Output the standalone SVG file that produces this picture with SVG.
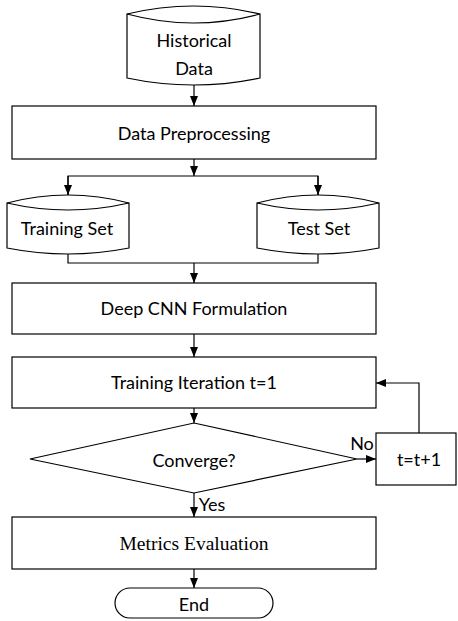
<svg xmlns="http://www.w3.org/2000/svg" width="458" height="621" viewBox="0 0 458 621">
<style>
.s{fill:#fff;stroke:#000;stroke-width:1.2}
.l{fill:none;stroke:#000;stroke-width:1.2}
.t{font-family:Lato,"Noto Sans",sans-serif;font-size:18px;fill:#000;text-anchor:middle}
.r{font-family:"Liberation Serif",serif;font-size:19.5px;fill:#000;text-anchor:middle}
</style>
<defs>
<marker id="a" markerUnits="userSpaceOnUse" markerWidth="10" markerHeight="10" viewBox="0 0 10 10" refX="10" refY="5" orient="auto">
<path d="M0,1 L10,5 L0,9 Z" fill="#000"/>
</marker>
</defs>
<rect width="458" height="621" fill="#fff"/>
<g id="connectors">
<path class="l" d="M194,85 V106" marker-end="url(#a)"/>
<path class="l" d="M194,159 V176" marker-end="url(#a)"/>
<path class="l" d="M68,195 V176 H318 V195" />
<path class="l" d="M68,176 V195" marker-end="url(#a)"/>
<path class="l" d="M318,176 V195" marker-end="url(#a)"/>
<path class="l" d="M68,254 V263 H318 V254"/>
<path class="l" d="M194,263 V283" marker-end="url(#a)"/>
<path class="l" d="M194,334 V357" marker-end="url(#a)"/>
<path class="l" d="M194,408 V423" marker-end="url(#a)"/>
<path class="l" d="M357,459 H376" marker-end="url(#a)"/>
<path class="l" d="M419,433 V383 H376" marker-end="url(#a)"/>
<path class="l" d="M194,493 V517" marker-end="url(#a)"/>
<path class="l" d="M194,569 V588" marker-end="url(#a)"/>
<text class="t" x="362" y="450">No</text>
<text class="t" x="212" y="511">Yes</text>
</g>
<g id="historical">
<path class="s" d="M127,14 Q193.5,-2 260,14 L260,78 Q193.5,92 127,78 Z"/>
<path class="l" d="M127,14 Q193.5,32 260,14"/>
<text class="t" x="194" y="47">Historical</text>
<text class="t" x="194" y="75">Data</text>
</g>
<g id="preprocessing">
<rect class="s" x="12" y="106" width="364" height="53"/>
<text class="t" x="194" y="140">Data Preprocessing</text>
</g>
<g id="training-set">
<path class="s" d="M7,203 Q68,187 129,203 L129,248 Q68,260 7,248 Z"/>
<path class="l" d="M7,203 Q68,217 129,203"/>
<text class="t" x="67" y="235">Training Set</text>
</g>
<g id="test-set">
<path class="s" d="M257,203 Q318,187 379,203 L379,248 Q318,260 257,248 Z"/>
<path class="l" d="M257,203 Q318,217 379,203"/>
<text class="t" x="319" y="235">Test Set</text>
</g>
<g id="cnn">
<rect class="s" x="12" y="283" width="364" height="51"/>
<text class="t" x="194" y="315">Deep CNN Formulation</text>
</g>
<g id="iteration">
<rect class="s" x="12" y="357" width="364" height="51"/>
<text class="t" x="194" y="389">Training Iteration t=1</text>
</g>
<g id="converge">
<path class="s" d="M194,423 L357,459 L194,493 L30,459 Z"/>
<text class="t" x="194" y="467">Converge?</text>
</g>
<g id="increment">
<rect class="s" x="376" y="433" width="80" height="52"/>
<text class="t" x="419" y="466">t=t+1</text>
</g>
<g id="metrics">
<rect class="s" x="12" y="517" width="364" height="52"/>
<text class="r" x="194" y="550">Metrics Evaluation</text>
</g>
<g id="end">
<rect class="s" x="115" y="588" width="158" height="30" rx="15" ry="15"/>
<text class="t" x="194" y="611">End</text>
</g>
</svg>
